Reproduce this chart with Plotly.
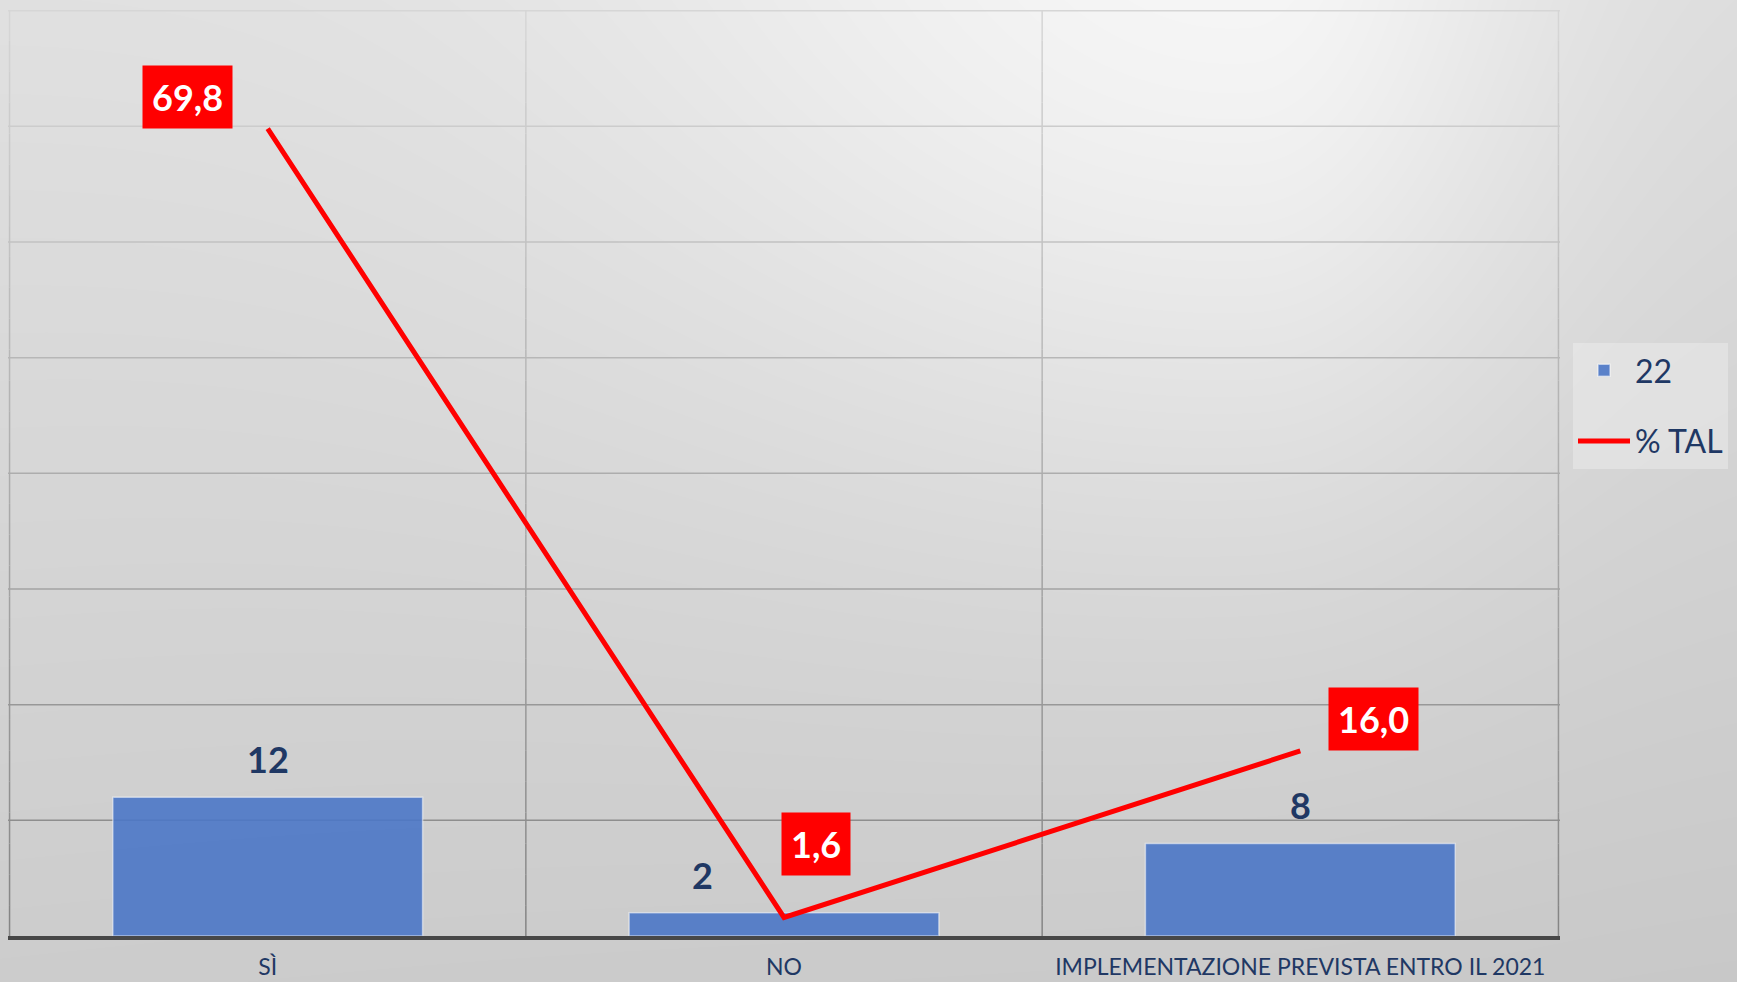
import base64
import struct
import zlib

import numpy as np
import plotly.graph_objects as go

categories = ["SÌ", "NO", "IMPLEMENTAZIONE PREVISTA ENTRO IL 2021"]
count_values = [12, 2, 8]
pct_tal_values = [69.8, 1.6, 16.0]
bar_name = "22"
line_name = "% TAL"
y_gridlines = [10, 20, 30, 40, 50, 60, 70, 80]
Y_MAX = 80

# label placement styles (pixel offsets) for the count labels and the % TAL boxes
count_label_xshift = [0, -82, 0]
pct_label_styles = [
    dict(xanchor="right", yanchor="bottom", xshift=-35, yshift=0),
    dict(xanchor="left", yanchor="bottom", xshift=-3, yshift=41),
    dict(xanchor="left", yanchor="bottom", xshift=28, yshift=0),
]

W, H = 1737, 982
ML, MR, MT, MB = 8, 177, 10, 46
PW, PH = W - ML - MR, H - MT - MB

NAVY = "#1f3864"
FONT = "Lato"

# ---- page background gradient
yy, xx = np.mgrid[0:H, 0:W].astype(float)
base = 224.0 - 20.0 * (yy / H) - 4.0 * (xx / W)
dx = xx - 1250.0
sx = np.where(dx < 0, 620.0, 290.0)
hl = 24.0 * np.exp(-(dx / sx) ** 2 - (yy / 520.0) ** 2)
img = np.clip(np.round(base + hl), 0, 255).astype(np.uint8)


def png_gray(arr):
    h, w = arr.shape
    a16 = arr.astype(np.int16)
    sub = a16.copy()
    sub[:, 1:] = (a16[:, 1:] - a16[:, :-1]) % 256
    data = np.hstack([np.ones((h, 1), np.uint8), sub.astype(np.uint8)]).tobytes()

    def chunk(t, d):
        return struct.pack(">I", len(d)) + t + d + struct.pack(">I", zlib.crc32(t + d) & 0xFFFFFFFF)

    ihdr = struct.pack(">IIBBBBB", w, h, 8, 0, 0, 0, 0)
    return b"\x89PNG\r\n\x1a\n" + chunk(b"IHDR", ihdr) + chunk(b"IDAT", zlib.compress(data, 9)) + chunk(b"IEND", b"")


bg_src = "data:image/png;base64," + base64.b64encode(png_gray(img)).decode()


def grid_color(t):
    """gridline grey fading from dark (bottom) to light (top)"""
    g = int(round(132 + (214 - 132) * t))
    return f"rgb({g},{g},{g})"


fig = go.Figure()
fig.add_trace(go.Bar(
    x=categories, y=count_values, name=bar_name, width=0.6, legendgroup="a",
    marker=dict(color="rgba(75,119,199,0.9)", line=dict(color="rgba(255,255,255,0.5)", width=1.5)),
))
fig.add_trace(go.Scatter(
    x=categories, y=pct_tal_values, name=line_name, mode="lines", legendgroup="b",
    line=dict(color="#ff0000", width=5),
))

for cat, v, xs in zip(categories, count_values, count_label_xshift):
    fig.add_annotation(
        x=cat, y=v, xref="x", yref="y", showarrow=False, text=str(v),
        font=dict(family=FONT, size=36, color=NAVY, weight="bold"),
        xanchor="center", yanchor="bottom", xshift=xs, yshift=14,
    )

for cat, v, st in zip(categories, pct_tal_values, pct_label_styles):
    fig.add_annotation(
        x=cat, y=v, xref="x", yref="y", showarrow=False,
        text=f"{v:.1f}".replace(".", ","),
        font=dict(family=FONT, size=36, color="white", weight="bold"),
        bgcolor="#ff0000", borderpad=9, **st,
    )

fig.add_layout_image(dict(
    source=bg_src, xref="paper", yref="paper",
    x=-ML / PW, y=1 + MT / PH, sizex=W / PW, sizey=H / PH,
    xanchor="left", yanchor="top", sizing="stretch", layer="below",
))

# horizontal gridlines (tick values), lighter towards the top
for v in y_gridlines:
    fig.add_shape(
        type="line", xref="paper", yref="y", x0=0, x1=1, y0=v, y1=v,
        line=dict(color=grid_color(v / Y_MAX), width=1.5), layer="below",
    )

# vertical gridlines on category boundaries, in segments for the fade
boundaries = [i - 0.5 for i in range(len(categories) + 1)]
NSEG = 30
for b in boundaries:
    for j in range(NSEG):
        fig.add_shape(
            type="line", xref="x", yref="paper", x0=b, x1=b,
            y0=j / NSEG, y1=(j + 1) / NSEG,
            line=dict(color=grid_color((j + 0.5) / NSEG), width=1.5), layer="below",
        )

fig.update_layout(
    width=W, height=H,
    margin=dict(l=ML, r=MR, t=MT, b=MB, autoexpand=False),
    paper_bgcolor="#d8d8d8", plot_bgcolor="rgba(0,0,0,0)",
    font=dict(family=FONT, color=NAVY),
    showlegend=True,
    legend=dict(
        x=(1573 - ML) / PW, y=1 - (343 - MT) / PH, xanchor="left", yanchor="top",
        bgcolor="rgba(240,240,240,0.45)", font=dict(family=FONT, size=32, color=NAVY),
        itemwidth=52, tracegroupgap=26, traceorder="grouped",
    ),
    xaxis=dict(
        type="category", range=[-0.503, 2.503], showgrid=False,
        ticks="", showline=True, linecolor="#474747", linewidth=4,
        tickfont=dict(family=FONT, size=23, color=NAVY), ticklabelstandoff=7,
        zeroline=False, automargin=False,
    ),
    yaxis=dict(
        range=[0, Y_MAX + 0.06], showgrid=False, showticklabels=False, ticks="",
        zeroline=False, showline=False, automargin=False,
    ),
)

fig.write_html("out.html")
